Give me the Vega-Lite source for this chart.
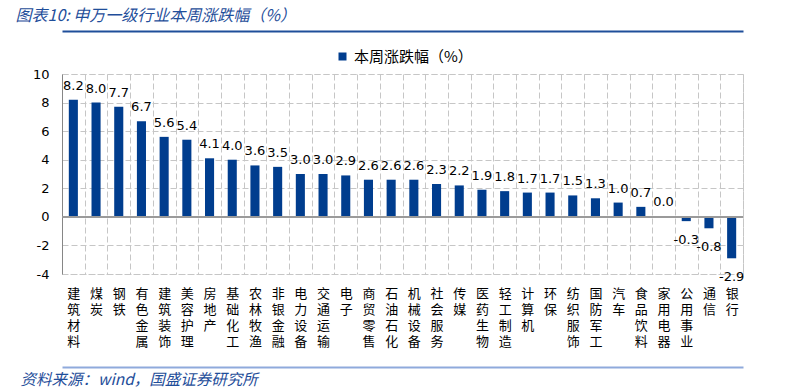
{
  "$schema": "https://vega.github.io/schema/vega-lite/v6.json",
  "width": 681,
  "height": 200,
  "autosize": {"type": "none"},
  "padding": {"left": 62, "top": 74, "right": 67, "bottom": 114},
  "background": "white",
  "config": {
    "view": {"stroke": "#c6c6c6", "strokeDash": [6, 3]},
    "font": "DejaVu Sans",
    "locale": {
      "number": {"decimal": ".", "thousands": ",", "grouping": [3], "currency": ["", ""], "minus": "-"}
    },
    "axisY": {
      "values": [-4, -2, 0, 2, 4, 6, 8, 10],
      "format": "d",
      "labelFont": "DejaVu Sans",
      "labelFontSize": 13,
      "labelColor": "#000000",
      "labelPadding": 13,
      "labelOverlap": false,
      "labelFlush": false,
      "ticks": false,
      "domainColor": "#868686",
      "grid": true,
      "gridColor": "#c6c6c6",
      "gridDash": [6, 3],
      "title": null
    }
  },
  "data": {
    "values": [
      {"industry": "建筑材料", "change": 8.2},
      {"industry": "煤炭", "change": 8.0},
      {"industry": "钢铁", "change": 7.7},
      {"industry": "有色金属", "change": 6.7},
      {"industry": "建筑装饰", "change": 5.6},
      {"industry": "美容护理", "change": 5.4},
      {"industry": "房地产", "change": 4.1},
      {"industry": "基础化工", "change": 4.0},
      {"industry": "农林牧渔", "change": 3.6},
      {"industry": "非银金融", "change": 3.5},
      {"industry": "电力设备", "change": 3.0},
      {"industry": "交通运输", "change": 3.0},
      {"industry": "电子", "change": 2.9},
      {"industry": "商贸零售", "change": 2.6},
      {"industry": "石油石化", "change": 2.6},
      {"industry": "机械设备", "change": 2.6},
      {"industry": "社会服务", "change": 2.3},
      {"industry": "传媒", "change": 2.2},
      {"industry": "医药生物", "change": 1.9},
      {"industry": "轻工制造", "change": 1.8},
      {"industry": "计算机", "change": 1.7},
      {"industry": "环保", "change": 1.7},
      {"industry": "纺织服饰", "change": 1.5},
      {"industry": "国防军工", "change": 1.3},
      {"industry": "汽车", "change": 1.0},
      {"industry": "食品饮料", "change": 0.7},
      {"industry": "家用电器", "change": 0.03},
      {"industry": "公用事业", "change": -0.3},
      {"industry": "通信", "change": -0.8},
      {"industry": "银行", "change": -2.9}
    ]
  },
  "layer": [
    {
      "mark": {"type": "bar", "color": "#003d8e", "width": {"band": 0.4}},
      "encoding": {
        "x": {
          "field": "industry",
          "type": "nominal",
          "sort": null,
          "scale": {"paddingInner": 0, "paddingOuter": 0},
          "axis": {
            "orient": "bottom",
            "labelAngle": 0,
            "labelExpr": "split(datum.label, '')",
            "labelFont": "Noto Sans CJK SC",
            "labelFontSize": 13,
            "labelLineHeight": 16,
            "labelBaseline": "top",
            "labelPadding": 13,
            "labelColor": "#000000",
            "labelOverlap": false,
            "labelLimit": 0,
            "ticks": false,
            "domain": false,
            "grid": true,
            "tickBand": "extent",
            "gridColor": "#c6c6c6",
            "gridDash": [6, 3],
            "title": null
          }
        },
        "y": {
          "field": "change",
          "type": "quantitative",
          "scale": {"domain": [-4, 10], "nice": false}
        },
        "color": {
          "datum": "本周涨跌幅（%）",
          "type": "nominal",
          "scale": {"range": ["#003d8e"]},
          "legend": {
            "title": null,
            "orient": "none",
            "legendX": 273,
            "legendY": -25,
            "symbolType": "square",
            "symbolSize": 64,
            "symbolStrokeWidth": 0,
            "labelFont": "Noto Sans CJK SC",
            "labelFontSize": 15,
            "labelColor": "#000000"
          }
        }
      }
    },
    {
      "transform": [{"filter": "datum.change >= 0"}],
      "mark": {"type": "text", "baseline": "alphabetic", "dy": -10, "fontSize": 13, "font": "DejaVu Sans", "color": "#000000"},
      "encoding": {
        "x": {
          "field": "industry",
          "type": "nominal",
          "sort": null,
          "axis": {
            "orient": "top",
            "offset": 43,
            "domain": true,
            "domainColor": "#1f4e9a",
            "domainWidth": 2,
            "labels": false,
            "ticks": false,
            "grid": false,
            "title": "图表10:  申万一级行业本周涨跌幅（%）",
            "titleFont": "Noto Sans CJK SC",
            "titleFontStyle": "italic",
            "titleFontWeight": "normal",
            "titleFontSize": 16,
            "titleColor": "#1f4e9a",
            "titleAnchor": "start",
            "titleAlign": "left",
            "titleBaseline": "alphabetic",
            "titleAngle": 0,
            "titleX": -47,
            "titleY": -11
          }
        },
        "y": {"field": "change", "type": "quantitative"},
        "text": {"field": "change", "type": "quantitative", "format": ".1f"}
      }
    },
    {
      "transform": [{"filter": "datum.change < 0"}],
      "mark": {"type": "text", "baseline": "alphabetic", "dy": 23, "fontSize": 13, "font": "DejaVu Sans", "color": "#000000"},
      "encoding": {
        "x": {
          "field": "industry",
          "type": "nominal",
          "sort": null,
          "axis": {
            "orient": "bottom",
            "offset": 93,
            "domain": true,
            "domainColor": "#8faadc",
            "domainWidth": 2,
            "labels": false,
            "ticks": false,
            "grid": false,
            "title": "资料来源：wind，国盛证券研究所",
            "titleFont": "Noto Sans CJK SC",
            "titleFontStyle": "italic",
            "titleFontWeight": "normal",
            "titleFontSize": 15.5,
            "titleColor": "#1f4e9a",
            "titleAnchor": "start",
            "titleAlign": "left",
            "titleBaseline": "alphabetic",
            "titleX": -42,
            "titleY": 17
          }
        },
        "y": {"field": "change", "type": "quantitative"},
        "text": {"field": "change", "type": "quantitative", "format": ".1f"}
      }
    },
    {
      "mark": {"type": "rule", "color": "#9a9a9a", "strokeWidth": 1},
      "encoding": {"y": {"datum": 0, "type": "quantitative"}}
    }
  ],
  "resolve": {"axis": {"x": "independent"}}
}
